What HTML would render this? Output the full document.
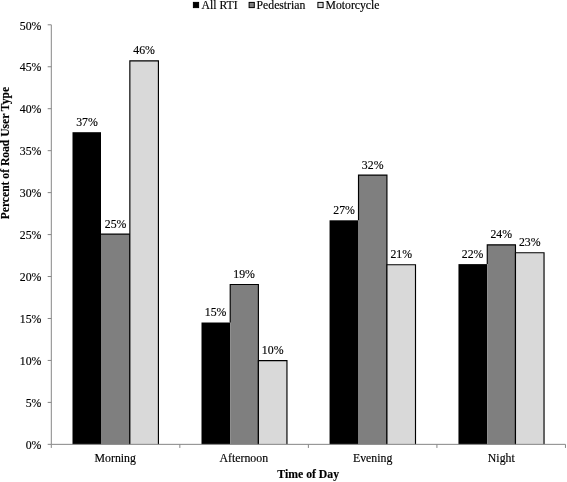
<!DOCTYPE html>
<html><head><meta charset="utf-8"><title>Chart</title>
<style>
html,body{margin:0;padding:0;background:#fff;}
body{width:567px;height:482px;overflow:hidden;}
svg{display:block;filter:blur(0.45px);}
svg text{font-family:"Liberation Serif",serif;font-size:11.8px;fill:#000;stroke:#000;stroke-width:0.15px;}
.b{font-weight:bold;font-size:11.5px;}
.lg{font-size:11.7px;}
</style></head><body>
<svg width="567" height="482" viewBox="0 0 567 482">
<rect x="0" y="0" width="567" height="482" fill="#ffffff"/>
<rect x="72.50" y="132.20" width="28.50" height="312.15" fill="#000000"/>
<text x="87.01" y="125.80" text-anchor="middle">37%</text>
<rect x="101.01" y="234.16" width="28.84" height="210.19" fill="#7f7f7f"/>
<path d="M101.01 234.16V234.16H129.85V444.35" fill="none" stroke="#000" stroke-width="1.15"/>
<text x="115.57" y="227.76" text-anchor="middle">25%</text>
<rect x="129.85" y="60.88" width="28.56" height="383.47" fill="#d9d9d9"/>
<path d="M129.85 444.35V60.88H158.42V444.35" fill="none" stroke="#000" stroke-width="1.15"/>
<text x="144.13" y="54.48" text-anchor="middle">46%</text>
<text x="115.27" y="461.7" text-anchor="middle">Morning</text>
<rect x="201.50" y="322.51" width="28.70" height="121.84" fill="#000000"/>
<text x="215.55" y="316.11" text-anchor="middle">15%</text>
<rect x="230.21" y="284.50" width="28.18" height="159.85" fill="#7f7f7f"/>
<path d="M230.21 322.51V284.50H258.39V444.35" fill="none" stroke="#000" stroke-width="1.15"/>
<text x="244.11" y="278.10" text-anchor="middle">19%</text>
<rect x="258.39" y="360.61" width="28.56" height="83.74" fill="#d9d9d9"/>
<path d="M258.39 444.35V360.61H286.96V444.35" fill="none" stroke="#000" stroke-width="1.15"/>
<text x="272.67" y="354.21" text-anchor="middle">10%</text>
<text x="243.81" y="461.7" text-anchor="middle">Afternoon</text>
<rect x="329.55" y="220.31" width="28.95" height="224.04" fill="#000000"/>
<text x="344.09" y="213.91" text-anchor="middle">27%</text>
<rect x="358.51" y="175.08" width="28.42" height="269.27" fill="#7f7f7f"/>
<path d="M358.51 220.31V175.08H386.93V444.35" fill="none" stroke="#000" stroke-width="1.15"/>
<text x="372.65" y="168.68" text-anchor="middle">32%</text>
<rect x="386.93" y="264.78" width="28.56" height="179.57" fill="#d9d9d9"/>
<path d="M386.93 444.35V264.78H415.50V444.35" fill="none" stroke="#000" stroke-width="1.15"/>
<text x="401.21" y="258.38" text-anchor="middle">21%</text>
<text x="372.65" y="461.7" text-anchor="middle">Evening</text>
<rect x="458.46" y="264.11" width="28.79" height="180.24" fill="#000000"/>
<text x="472.63" y="257.71" text-anchor="middle">22%</text>
<rect x="487.26" y="244.81" width="28.21" height="199.54" fill="#7f7f7f"/>
<path d="M487.26 264.11V244.81H515.47V444.35" fill="none" stroke="#000" stroke-width="1.15"/>
<text x="501.19" y="238.41" text-anchor="middle">24%</text>
<rect x="515.47" y="252.70" width="28.56" height="191.65" fill="#d9d9d9"/>
<path d="M515.47 444.35V252.70H544.04V444.35" fill="none" stroke="#000" stroke-width="1.15"/>
<text x="529.75" y="246.30" text-anchor="middle">23%</text>
<text x="501.29" y="461.7" text-anchor="middle">Night</text>
<g stroke="#868686" stroke-width="1" fill="none">
<line x1="51.30" y1="24.80" x2="51.30" y2="444.35"/>
<line x1="51.30" y1="444.35" x2="565.46" y2="444.35"/>
<line x1="47.70" y1="444.35" x2="51.30" y2="444.35"/>
<line x1="47.70" y1="402.40" x2="51.30" y2="402.40"/>
<line x1="47.70" y1="360.44" x2="51.30" y2="360.44"/>
<line x1="47.70" y1="318.49" x2="51.30" y2="318.49"/>
<line x1="47.70" y1="276.53" x2="51.30" y2="276.53"/>
<line x1="47.70" y1="234.58" x2="51.30" y2="234.58"/>
<line x1="47.70" y1="192.62" x2="51.30" y2="192.62"/>
<line x1="47.70" y1="150.67" x2="51.30" y2="150.67"/>
<line x1="47.70" y1="108.71" x2="51.30" y2="108.71"/>
<line x1="47.70" y1="66.75" x2="51.30" y2="66.75"/>
<line x1="47.70" y1="24.80" x2="51.30" y2="24.80"/>
<line x1="51.30" y1="444.35" x2="51.30" y2="447.95"/>
<line x1="179.84" y1="444.35" x2="179.84" y2="447.95"/>
<line x1="308.38" y1="444.35" x2="308.38" y2="447.95"/>
<line x1="436.92" y1="444.35" x2="436.92" y2="447.95"/>
<line x1="565.46" y1="444.35" x2="565.46" y2="447.95"/>
</g>
<text x="41.4" y="449.05" text-anchor="end">0%</text>
<text x="41.4" y="407.10" text-anchor="end">5%</text>
<text x="41.4" y="365.14" text-anchor="end">10%</text>
<text x="41.4" y="323.19" text-anchor="end">15%</text>
<text x="41.4" y="281.23" text-anchor="end">20%</text>
<text x="41.4" y="239.28" text-anchor="end">25%</text>
<text x="41.4" y="197.32" text-anchor="end">30%</text>
<text x="41.4" y="155.37" text-anchor="end">35%</text>
<text x="41.4" y="113.41" text-anchor="end">40%</text>
<text x="41.4" y="71.45" text-anchor="end">45%</text>
<text x="41.4" y="29.50" text-anchor="end">50%</text>
<rect x="193.4" y="2.4" width="5.2" height="5.2" fill="#000" stroke="#000" stroke-width="1"/>
<text class="lg" x="201.6" y="8.8">All RTI</text>
<rect x="249.1" y="2.4" width="5.2" height="5.2" fill="#7f7f7f" stroke="#000" stroke-width="1"/>
<text class="lg" x="256.6" y="8.8">Pedestrian</text>
<rect x="317.9" y="2.4" width="5.2" height="5.2" fill="#d9d9d9" stroke="#000" stroke-width="1"/>
<text class="lg" x="325.6" y="8.8">Motorcycle</text>
<text class="b" style="font-size:11.75px" x="308.2" y="477.7" text-anchor="middle">Time of Day</text>
<text class="b" style="font-size:11.6px" transform="translate(9.1,153.1) rotate(-90)" text-anchor="middle">Percent of Road User Type</text>
</svg>
</body></html>
